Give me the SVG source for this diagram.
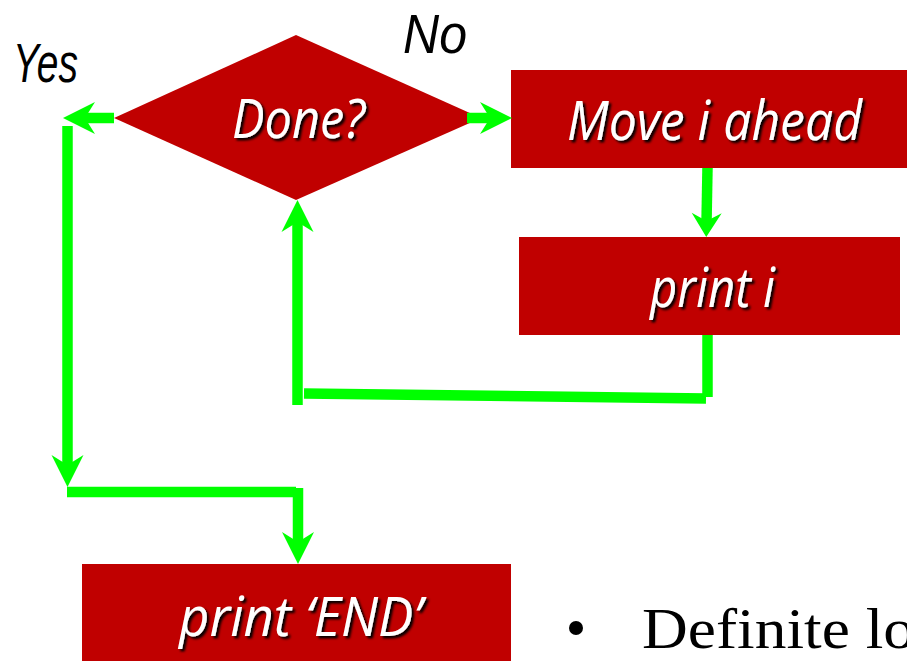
<svg xmlns="http://www.w3.org/2000/svg" width="907" height="661" viewBox="0 0 907 661">
  <style>
    .box { fill: #c00000; }
    .lbl { font-family: "Open Sans", "Liberation Sans", sans-serif; font-style: italic; font-size: 54px; fill: #ffffff; filter: url(#shadow); }
    .edge-lbl { font-family: "Liberation Sans", "Open Sans", sans-serif; font-style: italic; font-size: 55px; fill: #000000; }
    .wire { fill: none; stroke: #00ff00; stroke-width: 10.5; stroke-linecap: butt; stroke-linejoin: miter; }
    .bullet-text { font-family: "Liberation Serif", "DejaVu Serif", serif; font-size: 57px; fill: #000000; }
  </style>
  <defs>
    <filter id="shadow" x="-10%" y="-20%" width="130%" height="150%">
      <feDropShadow dx="2.4" dy="2.4" stdDeviation="1" flood-color="#000000" flood-opacity="1"/>
    </filter>
    <marker id="ah" markerUnits="userSpaceOnUse" markerWidth="40" markerHeight="40" refX="12" refY="0" orient="auto" overflow="visible">
      <path d="M32,0 L0,-16 L10,0 L0,16 Z" fill="#00ff00"/>
    </marker>
    <marker id="ah-s" markerUnits="userSpaceOnUse" markerWidth="40" markerHeight="40" refX="10" refY="0" orient="auto" overflow="visible">
      <path d="M24,0 L0,-15 L8,0 L0,15 Z" fill="#00ff00"/>
    </marker>
  </defs>

  <rect width="907" height="661" fill="#ffffff"/>

  <!-- decision -->
  <g id="done">
    <polygon class="box" points="296,35 481,118 296,200 114,118"/>
    <text class="lbl" x="232" y="138" textLength="133" lengthAdjust="spacingAndGlyphs">Done?</text>
  </g>

  <g id="move">
    <rect class="box" x="511" y="70" width="396" height="98"/>
    <text class="lbl" x="567" y="140" textLength="295" lengthAdjust="spacingAndGlyphs">Move i ahead</text>
  </g>

  <g id="print-i">
    <rect class="box" x="519" y="237" width="381" height="98"/>
    <text class="lbl" x="650" y="307" textLength="125" lengthAdjust="spacingAndGlyphs">print i</text>
  </g>

  <g id="print-end">
    <rect class="box" x="82" y="564" width="429" height="100"/>
    <text class="lbl" x="179" y="636" textLength="243" lengthAdjust="spacingAndGlyphs">print ‘END’</text>
  </g>

  <!-- branch labels -->
  <g id="labels">
    <text class="edge-lbl" x="13" y="82" textLength="65" lengthAdjust="spacingAndGlyphs">Yes</text>
    <text class="edge-lbl" x="403" y="53" textLength="64" lengthAdjust="spacingAndGlyphs">No</text>
  </g>

  <!-- connectors -->
  <g id="connectors">
    <path class="wire" d="M467,118 H492" marker-end="url(#ah)"/>
    <path class="wire" d="M114,118 H83" marker-end="url(#ah)"/>
    <path class="wire" d="M67.5,126 V467" marker-end="url(#ah)"/>
    <path class="wire" d="M67,492 H296"/>
    <path class="wire" d="M298,488 V544" marker-end="url(#ah)"/>
    <path class="wire" d="M707.5,168 L706.5,223" marker-end="url(#ah-s)"/>
    <path class="wire" d="M707.5,335 V397"/>
    <path class="wire" d="M706,398.5 L304,393.5"/>
    <path class="wire" d="M297.5,405 V220" marker-end="url(#ah)"/>
  </g>

  <!-- side text -->
  <g id="bullet">
    <circle cx="576" cy="628" r="7" fill="#000000"/>
    <text class="bullet-text" x="642" y="648" textLength="273" lengthAdjust="spacingAndGlyphs">Definite lo</text>
  </g>
</svg>
